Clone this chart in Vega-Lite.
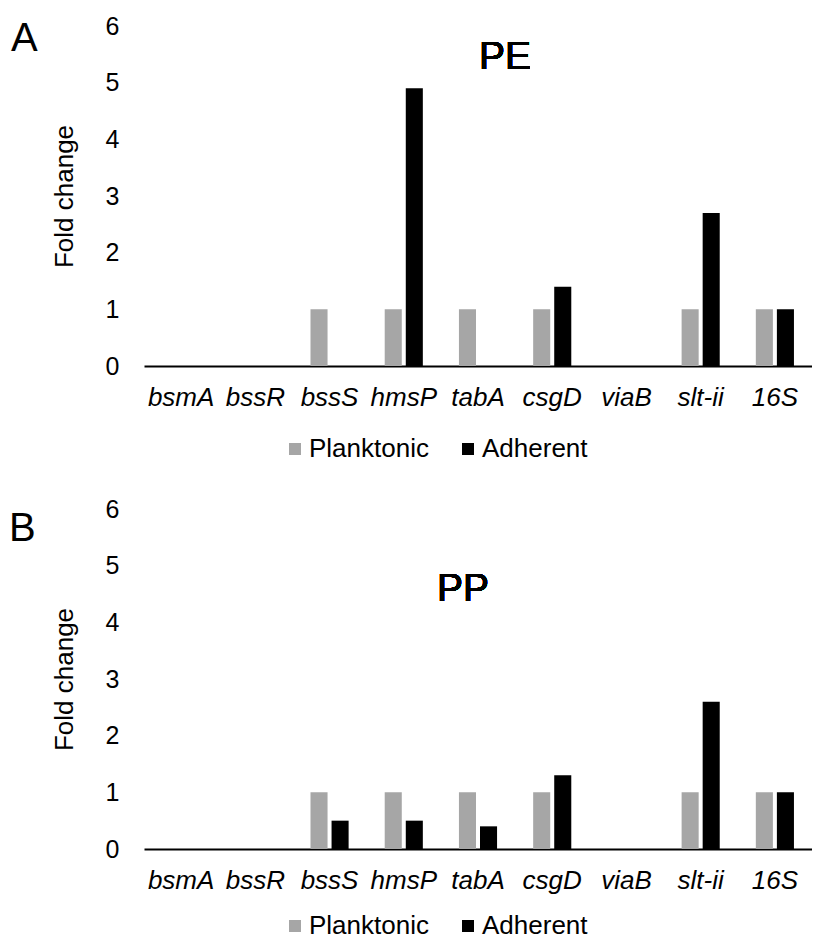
{
  "$schema": "https://vega.github.io/schema/vega-lite/v6.json",
  "background": "white",
  "padding": {"left": 9, "top": 14, "right": 0, "bottom": 0},
  "config": {
    "view": {"stroke": null},
    "font": "Liberation Sans",
    "axis": {"labelColor": "#000", "titleColor": "#000", "ticks": false, "grid": false},
    "legend": {"labelColor": "#000"}
  },
  "data": {"values": [
    {"panel": "A", "gene": "bsmA", "cond": "Planktonic", "value": 0},
    {"panel": "A", "gene": "bsmA", "cond": "Adherent", "value": 0},
    {"panel": "A", "gene": "bssR", "cond": "Planktonic", "value": 0},
    {"panel": "A", "gene": "bssR", "cond": "Adherent", "value": 0},
    {"panel": "A", "gene": "bssS", "cond": "Planktonic", "value": 1},
    {"panel": "A", "gene": "bssS", "cond": "Adherent", "value": 0},
    {"panel": "A", "gene": "hmsP", "cond": "Planktonic", "value": 1},
    {"panel": "A", "gene": "hmsP", "cond": "Adherent", "value": 4.9},
    {"panel": "A", "gene": "tabA", "cond": "Planktonic", "value": 1},
    {"panel": "A", "gene": "tabA", "cond": "Adherent", "value": 0},
    {"panel": "A", "gene": "csgD", "cond": "Planktonic", "value": 1},
    {"panel": "A", "gene": "csgD", "cond": "Adherent", "value": 1.4},
    {"panel": "A", "gene": "viaB", "cond": "Planktonic", "value": 0},
    {"panel": "A", "gene": "viaB", "cond": "Adherent", "value": 0},
    {"panel": "A", "gene": "slt-ii", "cond": "Planktonic", "value": 1},
    {"panel": "A", "gene": "slt-ii", "cond": "Adherent", "value": 2.7},
    {"panel": "A", "gene": "16S", "cond": "Planktonic", "value": 1},
    {"panel": "A", "gene": "16S", "cond": "Adherent", "value": 1},
    {"panel": "B", "gene": "bsmA", "cond": "Planktonic", "value": 0},
    {"panel": "B", "gene": "bsmA", "cond": "Adherent", "value": 0},
    {"panel": "B", "gene": "bssR", "cond": "Planktonic", "value": 0},
    {"panel": "B", "gene": "bssR", "cond": "Adherent", "value": 0},
    {"panel": "B", "gene": "bssS", "cond": "Planktonic", "value": 1},
    {"panel": "B", "gene": "bssS", "cond": "Adherent", "value": 0.5},
    {"panel": "B", "gene": "hmsP", "cond": "Planktonic", "value": 1},
    {"panel": "B", "gene": "hmsP", "cond": "Adherent", "value": 0.5},
    {"panel": "B", "gene": "tabA", "cond": "Planktonic", "value": 1},
    {"panel": "B", "gene": "tabA", "cond": "Adherent", "value": 0.4},
    {"panel": "B", "gene": "csgD", "cond": "Planktonic", "value": 1},
    {"panel": "B", "gene": "csgD", "cond": "Adherent", "value": 1.3},
    {"panel": "B", "gene": "viaB", "cond": "Planktonic", "value": 0},
    {"panel": "B", "gene": "viaB", "cond": "Adherent", "value": 0},
    {"panel": "B", "gene": "slt-ii", "cond": "Planktonic", "value": 1},
    {"panel": "B", "gene": "slt-ii", "cond": "Adherent", "value": 2.6},
    {"panel": "B", "gene": "16S", "cond": "Planktonic", "value": 1},
    {"panel": "B", "gene": "16S", "cond": "Adherent", "value": 1}
  ]},
  "spacing": 35,
  "vconcat": [
    {
      "title": {"text": "A", "anchor": "start", "frame": "bounds", "fontSize": 40, "fontWeight": "normal", "color": "#000", "offset": -45, "dx": -40},
      "width": 668,
      "height": 340,
      "transform": [{"filter": "datum.panel === 'A'"}],
      "layer": [
        {
          "mark": {"type": "bar"},
          "encoding": {
            "x": {"field": "gene", "type": "nominal", "sort": ["bsmA", "bssR", "bssS", "hmsP", "tabA", "csgD", "viaB", "slt-ii", "16S"],
              "scale": {"paddingInner": 0, "paddingOuter": 0},
              "axis": {"title": null, "labelAngle": 0, "labelFontSize": 26, "labelFontStyle": "italic", "labelPadding": 18, "domainColor": "#000", "domainWidth": 2}},
            "xOffset": {"field": "cond", "type": "nominal", "sort": ["Planktonic", "Adherent"], "scale": {"paddingInner": 0.19, "paddingOuter": 0.857}},
            "y": {"field": "value", "type": "quantitative", "scale": {"domain": [0, 6], "nice": false},
              "axis": {"title": "Fold change", "titleFontSize": 26, "titleFontWeight": "normal", "titlePadding": 28, "labelFontSize": 25, "labelPadding": 25, "format": "d", "values": [0, 1, 2, 3, 4, 5, 6], "domain": false}},
            "color": {"field": "cond", "type": "nominal", "sort": ["Planktonic", "Adherent"],
              "scale": {"domain": ["Planktonic", "Adherent"], "range": ["#a6a6a6", "#000000"]},
              "legend": {"title": null, "orient": "none", "legendX": 138, "legendY": 410, "direction": "horizontal", "symbolType": "square", "symbolSize": 144, "symbolStrokeWidth": 0, "labelFontSize": 26, "labelOffset": 1, "columnPadding": 26}}
          }
        },
        {
          "mark": {"type": "text", "fontSize": 39, "baseline": "alphabetic", "align": "center", "dx": 27, "color": "#000"},
          "encoding": {"x": {"datum": "tabA"}, "y": {"datum": 5.25}, "text": {"value": "PE"}}
        }
      ]
    },
    {
      "title": {"text": "B", "anchor": "start", "frame": "bounds", "fontSize": 40, "fontWeight": "normal", "color": "#000", "offset": -52, "dx": -42},
      "width": 668,
      "height": 340,
      "transform": [{"filter": "datum.panel === 'B'"}],
      "layer": [
        {
          "mark": {"type": "bar"},
          "encoding": {
            "x": {"field": "gene", "type": "nominal", "sort": ["bsmA", "bssR", "bssS", "hmsP", "tabA", "csgD", "viaB", "slt-ii", "16S"],
              "scale": {"paddingInner": 0, "paddingOuter": 0},
              "axis": {"title": null, "labelAngle": 0, "labelFontSize": 26, "labelFontStyle": "italic", "labelPadding": 18, "domainColor": "#000", "domainWidth": 2}},
            "xOffset": {"field": "cond", "type": "nominal", "sort": ["Planktonic", "Adherent"], "scale": {"paddingInner": 0.19, "paddingOuter": 0.857}},
            "y": {"field": "value", "type": "quantitative", "scale": {"domain": [0, 6], "nice": false},
              "axis": {"title": "Fold change", "titleFontSize": 26, "titleFontWeight": "normal", "titlePadding": 28, "labelFontSize": 25, "labelPadding": 25, "format": "d", "values": [0, 1, 2, 3, 4, 5, 6], "domain": false}},
            "color": {"field": "cond", "type": "nominal", "sort": ["Planktonic", "Adherent"],
              "scale": {"domain": ["Planktonic", "Adherent"], "range": ["#a6a6a6", "#000000"]},
              "legend": {"title": null, "orient": "none", "legendX": 138, "legendY": 404, "direction": "horizontal", "symbolType": "square", "symbolSize": 144, "symbolStrokeWidth": 0, "labelFontSize": 26, "labelOffset": 1, "columnPadding": 26}}
          }
        },
        {
          "mark": {"type": "text", "fontSize": 39, "baseline": "alphabetic", "align": "center", "dx": -15, "color": "#000"},
          "encoding": {"x": {"datum": "tabA"}, "y": {"datum": 4.38}, "text": {"value": "PP"}}
        }
      ]
    }
  ],
  "resolve": {"legend": {"color": "independent"}}
}
